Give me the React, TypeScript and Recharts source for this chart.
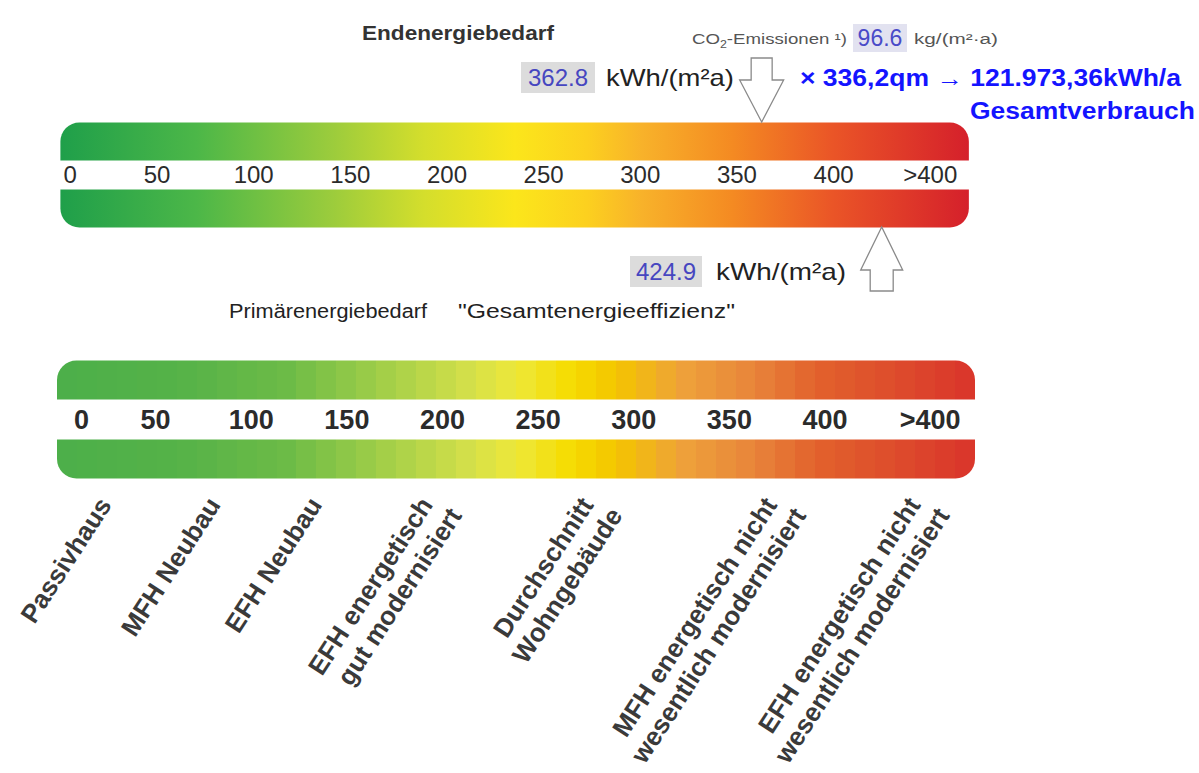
import { ComposedChart, Bar, XAxis, YAxis, ReferenceDot, Rectangle } from 'recharts'

// scale values (kWh/(m²a)), the last tick stands for ">400"
const topTicks = [0, 50, 100, 150, 200, 250, 300, 350, 400, 450]
const bottomTicks = [0, 50, 100, 150, 200, 250, 300, 350, 400, 455]
const tickLabels = ['0', '50', '100', '150', '200', '250', '300', '350', '400', '>400']

// the two bands of each scale, running from 0 to the end of the bar
const energyBands = [
  { row: 'upper', start: 0, end: 470 },
  { row: 'lower', start: 0, end: 470 },
]
const compareBands = [
  { row: 'upper', start: 0, end: 480 },
  { row: 'lower', start: 0, end: 480 },
]

const endEnergy = 362.8
const primaryEnergy = 424.9
const co2Emission = 96.6
const totalLabel = '× 336,2qm → 121.973,36kWh/a'

// reference building types along the lower scale
const buildingTypes = [
  { value: 29, lines: ['Passivhaus'] },
  { value: 86, lines: ['MFH Neubau'] },
  { value: 139, lines: ['EFH Neubau'] },
  { value: 197, lines: ['EFH energetisch', 'gut modernisiert'] },
  { value: 281, lines: ['Durchschnitt', 'Wohngebäude'] },
  { value: 377, lines: ['MFH energetisch nicht', 'wesentlich modernisiert'] },
  { value: 452, lines: ['EFH energetisch nicht', 'wesentlich modernisiert'] },
]

const font = '"Liberation Sans", Arial, sans-serif'
const topColors: [number, string][] = [
  [0, '#1f9f4a'], [0.15, '#4cb748'], [0.3, '#9ccc3c'], [0.4, '#d4de2c'], [0.5, '#fbe61b'],
  [0.58, '#fcd01f'], [0.64, '#f8b22a'], [0.74, '#f48a22'], [0.85, '#ea5527'], [1, '#d5202b'],
]
const bottomColors: [number, string][] = [
  [0, '#4caf4a'], [0.13, '#55b248'], [0.25, '#6cbb47'], [0.35, '#9fcd48'], [0.45, '#d4e04a'],
  [0.5, '#eee83a'], [0.56, '#f6dc00'], [0.61, '#f4c400'], [0.68, '#eea23a'], [0.76, '#e8843a'],
  [0.83, '#e2612c'], [0.92, '#dd4a2c'], [1, '#d9342b'],
]

// the lower scale is drawn in flat colour steps
function sampleColor(colors: [number, string][], t: number) {
  let i = 0
  while (i < colors.length - 2 && t > colors[i + 1][0]) i++
  const [o1, c1] = colors[i]
  const [o2, c2] = colors[i + 1]
  const k = Math.min(1, Math.max(0, (t - o1) / (o2 - o1)))
  const a = parseInt(c1.slice(1), 16)
  const b = parseInt(c2.slice(1), 16)
  const ch = (s: number) => Math.round(((a >> s) & 255) * (1 - k) + ((b >> s) & 255) * k)
  return `rgb(${ch(16)},${ch(8)},${ch(0)})`
}

function steppedStops(colors: [number, string][], steps: number) {
  const out: [number, string][] = []
  for (let i = 0; i < steps; i++) {
    const c = sampleColor(colors, (i + 0.5) / steps)
    out.push([i / steps, c], [(i + 1) / steps, c])
  }
  return out
}

function bandShape(r: number) {
  return (p: any) => (
    <Rectangle
      x={p.x}
      y={p.y}
      width={p.width}
      height={p.height}
      fill={p.fill}
      radius={p.payload.row === 'upper' ? [r, r, 0, 0] : [0, 0, r, r]}
    />
  )
}

function scaleTick(gapY: number, size: number, weight: string, dx: number, zeroDx: number, ticks: number[]) {
  return (p: any) => {
    const i = ticks.indexOf(p.payload.value)
    const first = i === 0
    return (
      <text
        x={p.x + (first ? zeroDx : dx)}
        y={gapY}
        textAnchor={first ? 'start' : 'middle'}
        dominantBaseline="central"
        fontSize={size}
        fontWeight={weight}
        fontFamily={font}
        fill="#2b2b2b"
      >
        {tickLabels[i]}
      </text>
    )
  }
}

function TypeLabel({ cx, cy, lines }: any) {
  return (
    <g transform={`translate(${cx},${cy + 46}) rotate(-57)`}>
      <text textAnchor="end" fontSize={26} fontWeight="bold" fontFamily={font} fill="#3a3a3a">
        {lines.map((line: string, i: number) => (
          <tspan key={i} x={i * 7} dy={i === 0 ? 0 : 30}>
            {line}
          </tspan>
        ))}
      </text>
    </g>
  )
}

function DownArrow({ cx, cy }: any) {
  const t = cy - 19
  const pts = [
    [cx, t], [cx - 22, t - 42], [cx - 10.5, t - 42], [cx - 10.5, t - 64],
    [cx + 10.5, t - 64], [cx + 10.5, t - 42], [cx + 22, t - 42],
  ]
  return <polygon points={pts.map((q) => q.join(',')).join(' ')} fill="#fff" stroke="#8a8a8a" strokeWidth={1.3} />
}

function UpArrow({ cx, cy }: any) {
  const t = cy + 19
  const pts = [
    [cx, t], [cx - 21, t + 43], [cx - 11.5, t + 43], [cx - 11.5, t + 64],
    [cx + 11.5, t + 64], [cx + 11.5, t + 43], [cx + 21, t + 43],
  ]
  return <polygon points={pts.map((q) => q.join(',')).join(' ')} fill="#fff" stroke="#8a8a8a" strokeWidth={1.3} />
}

function Gradient({ id, stops }: { id: string; stops: [number, string][] }) {
  return (
    <defs>
      <linearGradient id={id} x1="0" y1="0" x2="1" y2="0">
        {stops.map(([o, c], i) => (
          <stop key={i} offset={o} stopColor={c} />
        ))}
      </linearGradient>
    </defs>
  )
}

function Annotations() {
  return (
    <svg width={1199} height={773} style={{ position: 'absolute', left: 0, top: 0, pointerEvents: 'none' }}>
      <g fontFamily={font}>
        <text x={362} y={40} fontSize={21} fontWeight="bold" fill="#333" textLength={192} lengthAdjust="spacingAndGlyphs">
          Endenergiebedarf
        </text>
        <text x={692} y={44} fontSize={15} fill="#555" textLength={155} lengthAdjust="spacingAndGlyphs">
          CO<tspan dy={4} fontSize={10}>2</tspan>
          <tspan dy={-4}>-Emissionen ¹)</tspan>
        </text>
        <rect x={853} y={24} width={54} height={28} fill="#e2e2f0" />
        <text x={880} y={46} fontSize={23} fill="#4a4ac8" textAnchor="middle">
          {co2Emission.toFixed(1)}
        </text>
        <text x={914} y={44} fontSize={14} fill="#555" textLength={84} lengthAdjust="spacingAndGlyphs">
          kg/(m²·a)
        </text>

        <rect x={521} y={62} width={74} height={31} fill="#dcdcdc" />
        <text x={558} y={86} fontSize={24} fill="#4646c0" textAnchor="middle">
          {endEnergy.toFixed(1)}
        </text>
        <text x={606} y={86} fontSize={24} fill="#222" textLength={128} lengthAdjust="spacingAndGlyphs">
          kWh/(m²a)
        </text>
        <text x={800} y={86} fontSize={23} fontWeight="bold" fill="#1414ff" textLength={381} lengthAdjust="spacingAndGlyphs">
          {totalLabel}
        </text>
        <text x={970} y={119} fontSize={23} fontWeight="bold" fill="#1414ff" textLength={225} lengthAdjust="spacingAndGlyphs">
          Gesamtverbrauch
        </text>

        <rect x={630} y={256} width={72} height={31} fill="#dcdcdc" />
        <text x={666} y={280} fontSize={24} fill="#4646c0" textAnchor="middle">
          {primaryEnergy.toFixed(1)}
        </text>
        <text x={716} y={280} fontSize={24} fill="#222" textLength={130} lengthAdjust="spacingAndGlyphs">
          kWh/(m²a)
        </text>
        <text x={229} y={318} fontSize={20} fill="#222" textLength={198} lengthAdjust="spacingAndGlyphs">
          Primärenergiebedarf
        </text>
        <text x={458} y={318} fontSize={20} fill="#222" textLength={277} lengthAdjust="spacingAndGlyphs">
          "Gesamtenergieeffizienz"
        </text>
      </g>
    </svg>
  )
}

export default function App() {
  return (
    <div style={{ position: 'absolute', left: 0, top: 0, width: 1199, height: 773, background: '#fff', overflow: 'hidden' }}>
      <div style={{ position: 'absolute', left: 0, top: 0 }}>
        <ComposedChart
          width={1199}
          height={330}
          layout="vertical"
          data={energyBands}
          margin={{ top: 77.5, right: 210.8, bottom: 88.5, left: 60.4 }}
        >
          <Gradient id="topGrad" stops={topColors} />
          <XAxis
            type="number"
            orientation="top"
            domain={[0, 480]}
            ticks={topTicks}
            interval={0}
            height={30}
            axisLine={false}
            tickLine={false}
            tick={scaleTick(174.5, 24, 'normal', 0, 3, topTicks)}
          />
          <YAxis type="category" dataKey="row" hide />
          <Bar
            dataKey={(d: any) => [d.start, d.end]}
            barSize={38}
            fill="url(#topGrad)"
            shape={bandShape(20)}
            isAnimationActive={false}
          />
          <ReferenceDot x={endEnergy} y="upper" r={0} shape={(p: any) => <DownArrow cx={p.cx} cy={p.cy} />} />
          <ReferenceDot x={primaryEnergy} y="lower" r={0} shape={(p: any) => <UpArrow cx={p.cx} cy={p.cy} />} />
        </ComposedChart>
      </div>
      <div style={{ position: 'absolute', left: 0, top: 0 }}>
        <ComposedChart
          width={1199}
          height={773}
          layout="vertical"
          data={compareBands}
          margin={{ top: 310.5, right: 224, bottom: 274.5, left: 57 }}
        >
          <Gradient id="bottomGrad" stops={steppedStops(bottomColors, 46)} />
          <XAxis
            type="number"
            orientation="top"
            domain={[0, 480]}
            ticks={bottomTicks}
            interval={0}
            height={30}
            axisLine={false}
            tickLine={false}
            tick={scaleTick(419.5, 27, 'bold', 3, 17, bottomTicks)}
          />
          <YAxis type="category" dataKey="row" hide />
          <Bar
            dataKey={(d: any) => [d.start, d.end]}
            barSize={39}
            fill="url(#bottomGrad)"
            shape={bandShape(22)}
            isAnimationActive={false}
          />
          {buildingTypes.map((b) => (
            <ReferenceDot
              key={b.value}
              x={b.value}
              y="lower"
              r={0}
              shape={(p: any) => <TypeLabel cx={p.cx} cy={p.cy} lines={b.lines} />}
            />
          ))}
        </ComposedChart>
      </div>
      <Annotations />
    </div>
  )
}
